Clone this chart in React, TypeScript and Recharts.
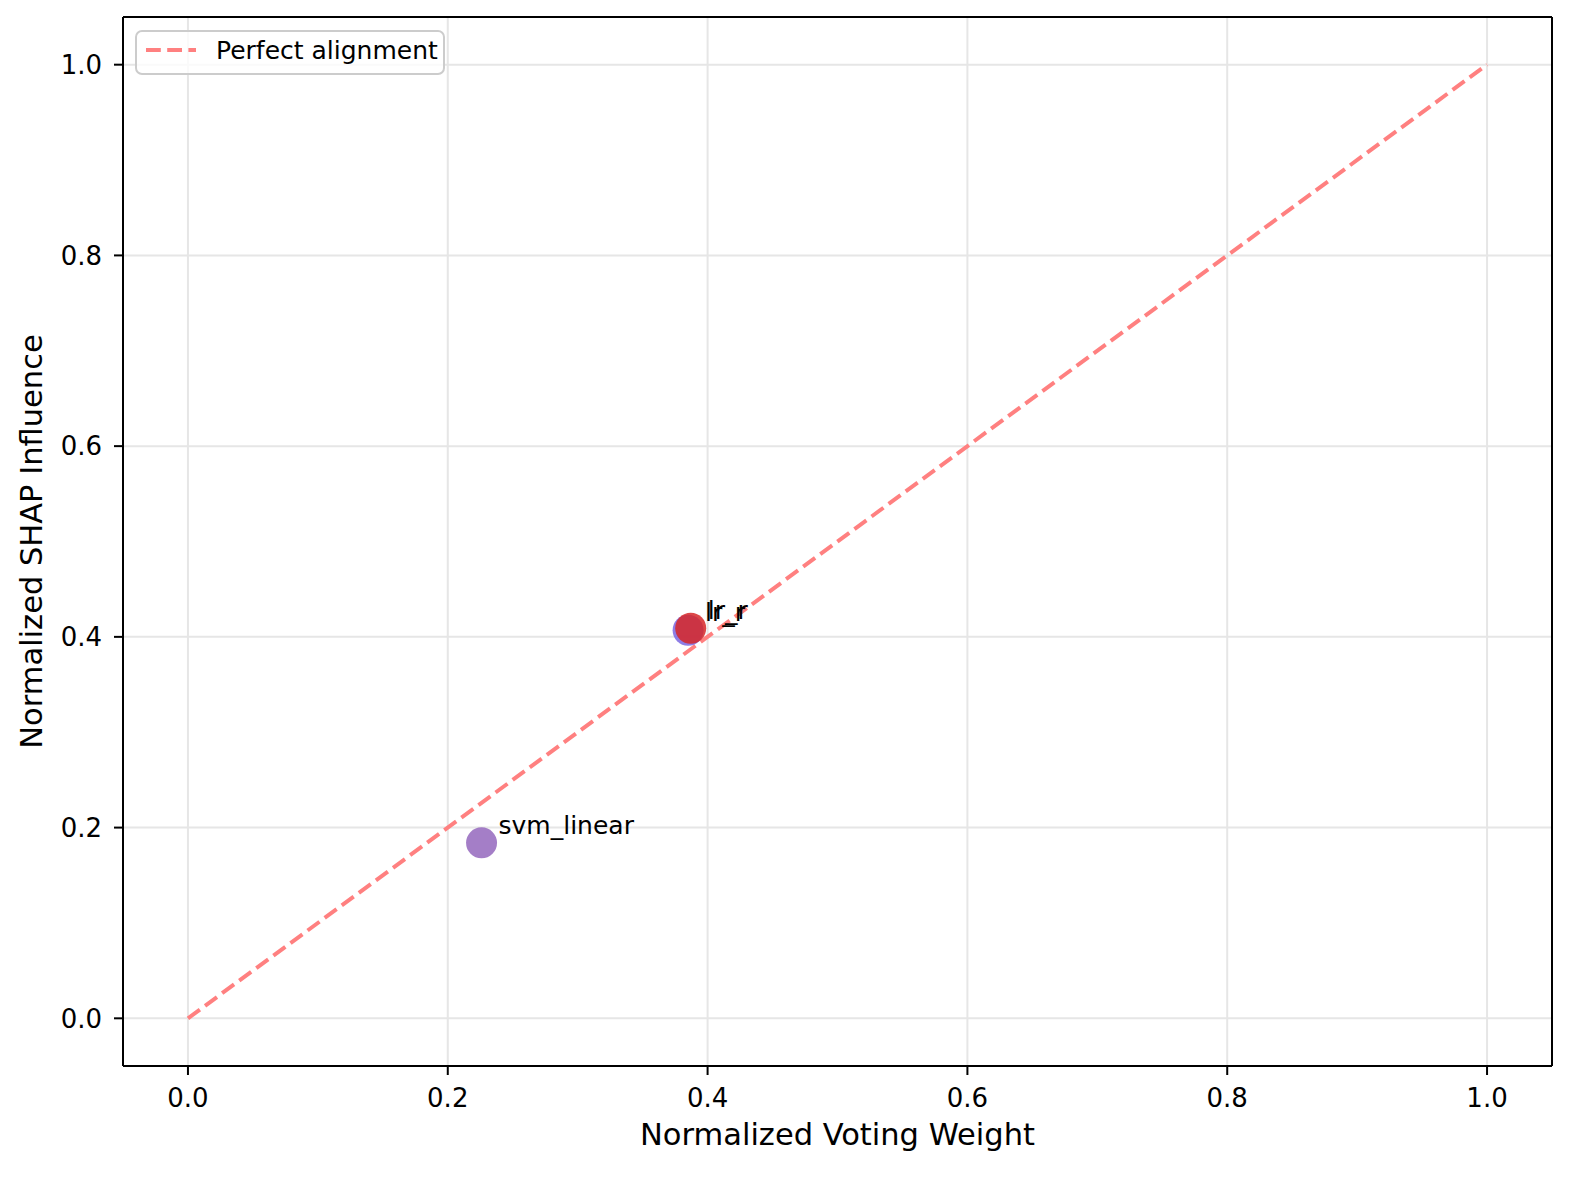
import { ScatterChart, Scatter, XAxis, YAxis, CartesianGrid, ReferenceLine } from "recharts";

const MODELS = ["svm_linear", "lr_r", "lr_r"];
const VOTING_WEIGHT = [0.226, 0.385, 0.387];
const SHAP_INFLUENCE = [0.184, 0.407, 0.409];
const POINT_COLORS = ["#9467bd", "#7a66e0", "#d62728"];
const TICKS = [0, 0.2, 0.4, 0.6, 0.8, 1.0];
const DIAGONAL = [
  { x: 0, y: 0 },
  { x: 1, y: 1 }
];

const points = MODELS.map((name, i) => ({
  name,
  x: VOTING_WEIGHT[i],
  y: SHAP_INFLUENCE[i],
  color: POINT_COLORS[i]
}));

const FONT = "DejaVu Sans";
const W = 1576;
const H = 1169;

const Dot = (props: any) => (
  <circle cx={props.cx} cy={props.cy} r={15.5} fill={props.payload.color} fillOpacity={0.85} />
);

const Name = (props: any) => (
  <text x={props.cx + 17} y={props.cy - 9} fontSize={25} fontFamily={FONT} fill="#000">
    {props.payload.name}
  </text>
);

const App = () => {
  return (
    <div style={{ position: "relative", width: W, height: H, fontFamily: FONT }}>
      <ScatterChart width={W} height={H} margin={{ top: 9, right: 32, left: 0, bottom: 0 }}>
        <CartesianGrid stroke="#e6e6e6" strokeWidth={2} />
        <XAxis
          type="number"
          dataKey="x"
          domain={[-0.05, 1.05]}
          ticks={TICKS}
          allowDataOverflow
          tickFormatter={(v: number) => v.toFixed(1)}
          height={111}
          tickSize={9}
          tickMargin={14}
          tick={{ fontSize: 26, fill: "#000", fontFamily: FONT }}
          tickLine={{ stroke: "#000", strokeWidth: 2 }}
          axisLine={{ stroke: "#000", strokeWidth: 2 }}
          label={{
            value: "Normalized Voting Weight",
            position: "insideBottom",
            offset: 32,
            style: { fontSize: 30.5, fill: "#000", fontFamily: FONT }
          }}
        />
        <YAxis
          type="number"
          dataKey="y"
          domain={[-0.05, 1.05]}
          ticks={TICKS}
          allowDataOverflow
          tickFormatter={(v: number) => v.toFixed(1)}
          width={115}
          tickSize={9}
          tickMargin={12}
          tick={{ fontSize: 26, fill: "#000", fontFamily: FONT }}
          tickLine={{ stroke: "#000", strokeWidth: 2 }}
          axisLine={{ stroke: "#000", strokeWidth: 2 }}
          label={{
            value: "Normalized SHAP Influence",
            angle: -90,
            position: "insideLeft",
            offset: 23,
            style: { fontSize: 30.5, fill: "#000", fontFamily: FONT, textAnchor: "middle" }
          }}
        />
        {/* top and right spines */}
        <ReferenceLine y={1.05} stroke="#000" strokeWidth={2} />
        <ReferenceLine x={1.05} stroke="#000" strokeWidth={2} />
        <ReferenceLine
          segment={DIAGONAL}
          stroke="#ff8080"
          strokeWidth={4}
          strokeDasharray="14.8 6.4"
          ifOverflow="visible"
        />
        {points.map((p, i) => (
          <Scatter key={i} data={[p]} shape={Dot} isAnimationActive={false} />
        ))}
        <Scatter data={points} shape={Name} isAnimationActive={false} />
      </ScatterChart>

      {/* legend box, upper left inside the axes */}
      <svg style={{ position: "absolute", left: 127, top: 22 }} width={312} height={46}>
        <rect x={1} y={1} width={308} height={43} rx={6} fill="#fff" fillOpacity={0.8} stroke="#cccccc" strokeWidth={2} />
        <line x1={11} y1={20} x2={61} y2={20} stroke="#ff8080" strokeWidth={4} strokeDasharray="14.8 6.4" />
        <text x={81} y={29} fontSize={25} fontFamily={FONT} fill="#000">
          Perfect alignment
        </text>
      </svg>
    </div>
  );
};

export default App;
